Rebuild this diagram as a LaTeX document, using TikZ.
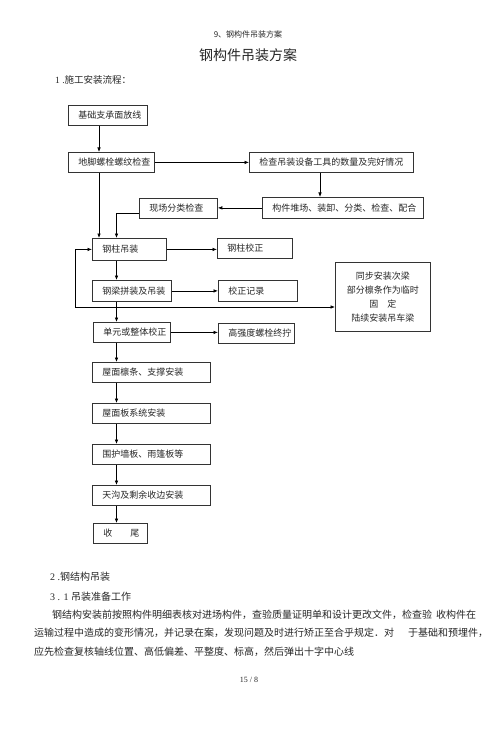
\documentclass[tikz,border=0pt]{standalone}
\usepackage{fontspec}
\setmainfont{Liberation Serif}
\newfontfamily\cjk{Noto Sans CJK SC}
\usetikzlibrary{arrows.meta}

\newcommand{\boxfont}{\cjk\fontsize{9}{11}\selectfont}

\begin{document}
\begin{tikzpicture}[x=1pt, y=-1pt, >={Latex[length=4.5pt,width=3.6pt]},
    stepbox/.style={draw=black!80, line width=0.8pt, anchor=north west, inner xsep=10pt, inner ysep=0pt,
        minimum height=20pt, align=left, font=\boxfont, text=black!85},
    link/.style={->, line width=0.7pt},
    prose/.style={anchor=west, inner sep=0pt, text=black!85}]
    \useasboundingbox (0,0) rectangle (496,735);

    % Page head
    \node[font=\cjk\fontsize{8}{9}\selectfont, text=black!85] (header) at (248,34) {9{\cjk 、钢构件吊装方案}};
    \node[font=\cjk\fontsize{14}{16}\selectfont, text=black!85] (title) at (248,55) {钢构件吊装方案};
    \node[prose, font=\fontsize{9.5}{11}\selectfont] (flowhead) at (55,80) {1 .{\cjk 施工安装流程：}};

    % Lanes of the flow
    \coordinate (laneA) at (99,0);
    \coordinate (laneB) at (116.5,0);
    \coordinate (laneC) at (320,0);
    \coordinate (loopcorner) at (75,307);

    % Preparation
    \node[stepbox, text width=59pt] (base) at (68,105) {基础支承面放线};
    \node[stepbox, text width=66pt] (bolt) at (68,152) {地脚螺栓螺纹检查};
    \node[stepbox, text width=144pt] (tools) at (249,152) {检查吊装设备工具的数量及完好情况};
    \node[stepbox, text width=141pt, minimum height=21pt] (yard) at (262,197) {构件堆场、装卸、分类、检查、配合};
    \node[stepbox, text width=58pt] (sort) at (139,198) {现场分类检查};

    % Erection
    \node[stepbox, text width=54pt, minimum height=22pt] (column) at (92,238) {钢柱吊装};
    \node[stepbox, text width=55pt] (colfix) at (217,238) {钢柱校正};
    \node[stepbox, text width=59pt, minimum height=21pt] (beam) at (92,280) {钢梁拼装及吊装};
    \node[stepbox, text width=59pt, minimum height=21pt] (record) at (218,280) {校正记录};
    \node[stepbox, text width=75pt, minimum height=69pt, align=center, font=\cjk\fontsize{9}{14}\selectfont]
        (sync) at (335,262) {同步安装次梁\\部分檩条作为临时\\\mbox{固\hspace{9pt}定}\\陆续安装吊车梁};
    \node[stepbox, text width=57pt] (unit) at (93,322) {单元或整体校正};
    \node[stepbox, text width=56pt] (hsb) at (218,323) {高强度螺栓终拧};

    % Roof and enclosure
    \node[stepbox, text width=98pt] (purlin) at (92,362) {屋面檩条、支撑安装};
    \node[stepbox, text width=98pt] (roof) at (92,403) {屋面板系统安装};
    \node[stepbox, text width=98pt] (wall) at (92,444) {围护墙板、雨篷板等};
    \node[stepbox, text width=98pt] (gutter) at (92,485) {天沟及剩余收边安装};
    \node[stepbox, text width=34pt] (finish) at (93,523) {\mbox{收\hspace{18pt}尾}};

    % Connectors
    \draw[link] (base.south -| laneA) -- (bolt.north -| laneA);
    \draw[link] (bolt.south -| laneA) -- (column.north -| laneA);
    \draw[link] (bolt.east) -- (bolt.east -| tools.west);
    \draw[link] (tools.south -| laneC) -- (yard.north -| laneC);
    \draw[link] (yard.west) -- (yard.west -| sort.east);
    \draw[link] ([yshift=-5pt]sort.west) -| (column.north -| laneB);
    \draw[link] (column.east) -- (column.east -| colfix.west);
    \draw[link] (column.south -| laneB) -- (beam.north -| laneB);
    \draw[link] (beam.east) -- (beam.east -| record.west);
    \draw[link, <->] (column.west) -| (loopcorner) -- (loopcorner -| sync.west);
    \draw[link] (beam.south -| laneB) -- (unit.north -| laneB);
    \draw[link] (unit.east) -- (unit.east -| hsb.west);
    \foreach \a/\b in {unit/purlin, purlin/roof, roof/wall, wall/gutter, gutter/finish}
        \draw[link] (\a.south -| laneB) -- (\b.north -| laneB);

    % Text below the chart
    \node[prose, font=\fontsize{10}{12}\selectfont] (sechead) at (50,577) {2 .{\cjk 钢结构吊装}};
    \node[prose, font=\fontsize{10}{12}\selectfont] (subhead) at (50,597) {3 . 1 {\cjk 吊装准备工作}};
    \node[prose, font=\cjk\fontsize{10}{12}\selectfont] (parA) at (52,615)
        {钢结构安装前按照构件明细表核对进场构件，查验质量证明单和设计更改文件，检查验\hspace{4pt}收构件在};
    \node[prose, font=\cjk\fontsize{10}{12}\selectfont] (parB) at (34,633)
        {运输过程中造成的变形情况，并记录在案，发现问题及时进行矫正至合乎规定．对\hspace{14pt}于基础和预埋件，};
    \node[prose, font=\cjk\fontsize{10}{12}\selectfont] (parC) at (34,652)
        {应先检查复核轴线位置、高低偏差、平整度、标高，然后弹出十字中心线};
    \node[font=\fontsize{8}{9}\selectfont, text=black!85] (pageno) at (249,680) {15 / 8};
\end{tikzpicture}
\end{document}
